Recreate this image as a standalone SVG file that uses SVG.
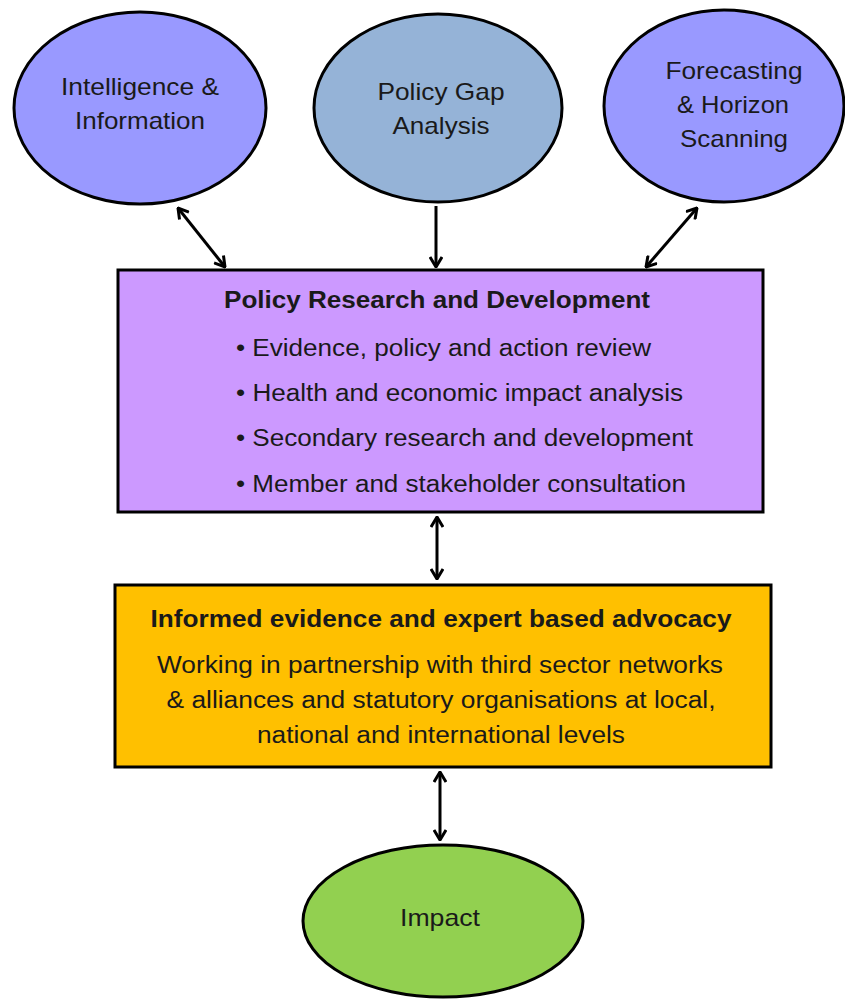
<svg xmlns="http://www.w3.org/2000/svg" width="845" height="1007" viewBox="0 0 845 1007">
<style>
text{font-family:"Liberation Sans",Arial,sans-serif;fill:#1a1a1a}
.e{font-size:24px;text-anchor:middle}
.t{font-size:23px;font-weight:bold;text-anchor:middle}
.b{font-size:23px}
.c{font-size:23px;text-anchor:middle}
.shape{stroke:#000;stroke-width:3}
.con{stroke:#000;stroke-width:3;fill:none}
</style>
<defs>
<marker id="ah" viewBox="0 0 12 14" refX="11" refY="7" markerWidth="12" markerHeight="14" markerUnits="userSpaceOnUse" orient="auto-start-reverse">
<path d="M1,1 L11,7 L1,13" fill="none" stroke="#000" stroke-width="3"/>
</marker>
</defs>
<rect width="845" height="1007" fill="#fff"/>
<g id="intelligence">
<ellipse class="shape" cx="140" cy="108" rx="126" ry="96" fill="#9999FF"/>
<text class="e" x="140" y="95" textLength="158" lengthAdjust="spacingAndGlyphs">Intelligence &amp;</text>
<text class="e" x="140" y="129" textLength="130" lengthAdjust="spacingAndGlyphs">Information</text>
</g>
<g id="policygap">
<ellipse class="shape" cx="438" cy="108" rx="124" ry="94" fill="#95B3D7"/>
<text class="e" x="441" y="100" textLength="127" lengthAdjust="spacingAndGlyphs">Policy Gap</text>
<text class="e" x="441" y="134" textLength="97" lengthAdjust="spacingAndGlyphs">Analysis</text>
</g>
<g id="forecasting">
<ellipse class="shape" cx="724" cy="106" rx="120" ry="96" fill="#9999FF"/>
<text class="e" x="734" y="79" textLength="137" lengthAdjust="spacingAndGlyphs">Forecasting</text>
<text class="e" x="733" y="113" textLength="112" lengthAdjust="spacingAndGlyphs">&amp; Horizon</text>
<text class="e" x="734" y="147" textLength="108" lengthAdjust="spacingAndGlyphs">Scanning</text>
</g>
<g id="research">
<rect class="shape" x="118" y="270" width="645" height="242" fill="#CC99FF"/>
<text class="t" x="437" y="308" textLength="426" lengthAdjust="spacingAndGlyphs">Policy Research and Development</text>
<text class="b" x="236" y="356" textLength="415" lengthAdjust="spacingAndGlyphs">• Evidence, policy and action review</text>
<text class="b" x="236" y="401" textLength="447" lengthAdjust="spacingAndGlyphs">• Health and economic impact analysis</text>
<text class="b" x="236" y="446" textLength="457" lengthAdjust="spacingAndGlyphs">• Secondary research and development</text>
<text class="b" x="236" y="492" textLength="450" lengthAdjust="spacingAndGlyphs">• Member and stakeholder consultation</text>
</g>
<g id="advocacy">
<rect class="shape" x="115" y="585" width="656" height="182" fill="#FFC000"/>
<text class="t" x="441" y="627" textLength="581" lengthAdjust="spacingAndGlyphs">Informed evidence and expert based advocacy</text>
<text class="c" x="440" y="673" textLength="566" lengthAdjust="spacingAndGlyphs">Working in partnership with third sector networks</text>
<text class="c" x="441" y="708" textLength="549" lengthAdjust="spacingAndGlyphs">&amp; alliances and statutory organisations at local,</text>
<text class="c" x="441" y="743" textLength="368" lengthAdjust="spacingAndGlyphs">national and international levels</text>
</g>
<g id="impact">
<ellipse class="shape" cx="443" cy="921" rx="140" ry="76" fill="#92D050"/>
<text class="e" x="440" y="926" textLength="80" lengthAdjust="spacingAndGlyphs">Impact</text>
</g>
<g id="connectors">
<line class="con" x1="178" y1="208" x2="225" y2="267" marker-start="url(#ah)" marker-end="url(#ah)"/>
<line class="con" x1="436" y1="206" x2="436" y2="267" marker-end="url(#ah)"/>
<line class="con" x1="697" y1="208" x2="646" y2="267" marker-start="url(#ah)" marker-end="url(#ah)"/>
<line class="con" x1="437" y1="517" x2="437" y2="579" marker-start="url(#ah)" marker-end="url(#ah)"/>
<line class="con" x1="440" y1="772" x2="440" y2="840" marker-start="url(#ah)" marker-end="url(#ah)"/>
</g>
</svg>
